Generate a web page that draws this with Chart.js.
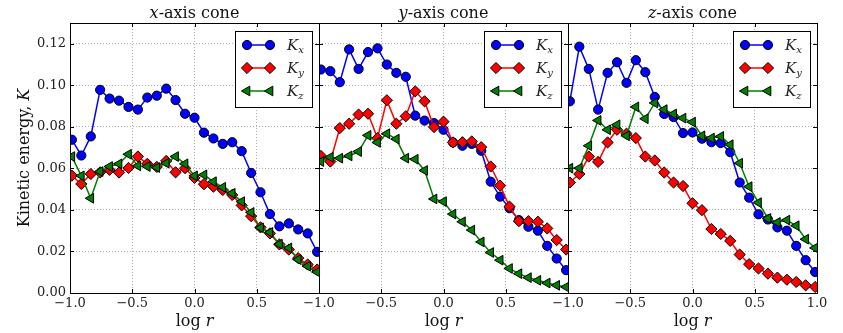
<!DOCTYPE html>
<html>
<head>
<meta charset="utf-8">
<script src="https://cdn.jsdelivr.net/npm/chart.js@4"></script>
<style>
  body { margin: 0; background: #fff; }
  #wrap { position: relative; width: 843px; height: 333px; }
  #wrap canvas { position: absolute; left: 0; top: 0; }
</style>
</head>
<body>
<div id="wrap">
  <canvas id="cx" width="843" height="333"></canvas>
  <canvas id="cy" width="843" height="333"></canvas>
  <canvas id="cz" width="843" height="333"></canvas>
</div>
<script>
// log r bins (shared by all panels)
const logR = [-0.985, -0.909, -0.833, -0.758, -0.682, -0.606, -0.530, -0.455, -0.379, -0.303, -0.227, -0.152, -0.076, 0.000,
  0.076, 0.152, 0.227, 0.303, 0.379, 0.455, 0.530, 0.606, 0.682, 0.758, 0.833, 0.909, 0.985];

// x-axis cone
const xConeKx = [0.0738, 0.0662, 0.0754, 0.0978, 0.0936, 0.0926, 0.0896, 0.0883, 0.0941, 0.0950, 0.0984, 0.0929, 0.0863, 0.0844,
  0.0772, 0.0744, 0.0718, 0.0726, 0.0683, 0.0578, 0.0485, 0.0380, 0.0321, 0.0335, 0.0306, 0.0287, 0.0198];
const xConeKy = [0.0565, 0.0525, 0.0573, 0.0581, 0.0593, 0.0580, 0.0602, 0.0657, 0.0622, 0.0607, 0.0636, 0.0581, 0.0601, 0.0554,
  0.0524, 0.0512, 0.0496, 0.0472, 0.0422, 0.0370, 0.0316, 0.0287, 0.0234, 0.0209, 0.0168, 0.0137, 0.0113];
const xConeKz = [0.0657, 0.0564, 0.0456, 0.0585, 0.0609, 0.0622, 0.0668, 0.0612, 0.0609, 0.0604, 0.0625, 0.0657, 0.0622, 0.0564,
  0.0569, 0.0536, 0.0509, 0.0480, 0.0440, 0.0388, 0.0314, 0.0292, 0.0235, 0.0217, 0.0161, 0.0129, 0.0101];

// y-axis cone
const yConeKx = [0.1076, 0.1068, 0.1015, 0.1173, 0.1079, 0.1160, 0.1178, 0.1100, 0.1060, 0.1041, 0.0854, 0.0830, 0.0818, 0.0786,
  0.0725, 0.0709, 0.0718, 0.0685, 0.0536, 0.0464, 0.0408, 0.0351, 0.0319, 0.0300, 0.0227, 0.0166, 0.0110];
const yConeKy = [0.0660, 0.0633, 0.0794, 0.0815, 0.0859, 0.0863, 0.0746, 0.0928, 0.0815, 0.0851, 0.0971, 0.0923, 0.0799, 0.0825,
  0.0725, 0.0726, 0.0730, 0.0702, 0.0609, 0.0517, 0.0416, 0.0346, 0.0346, 0.0343, 0.0311, 0.0255, 0.0209];
const yConeKz = [0.0633, 0.0654, 0.0649, 0.0660, 0.0681, 0.0759, 0.0725, 0.0767, 0.0741, 0.0649, 0.0644, 0.0590, 0.0453, 0.0440,
  0.0380, 0.0343, 0.0303, 0.0246, 0.0195, 0.0158, 0.0118, 0.0093, 0.0074, 0.0061, 0.0048, 0.0037, 0.0029];

// z-axis cone
const zConeKx = [0.0923, 0.1186, 0.1079, 0.0883, 0.1060, 0.1111, 0.1012, 0.1121, 0.1063, 0.0944, 0.0862, 0.0847, 0.0770, 0.0773,
  0.0743, 0.0726, 0.0722, 0.0678, 0.0532, 0.0459, 0.0379, 0.0354, 0.0316, 0.0300, 0.0227, 0.0158, 0.0101];
const zConeKy = [0.0532, 0.0573, 0.0657, 0.0631, 0.0725, 0.0786, 0.0767, 0.0746, 0.0657, 0.0638, 0.0580, 0.0532, 0.0515, 0.0432,
  0.0399, 0.0308, 0.0284, 0.0251, 0.0185, 0.0139, 0.0118, 0.0093, 0.0074, 0.0064, 0.0053, 0.0037, 0.0029];
const zConeKz = [0.0601, 0.0601, 0.0709, 0.0831, 0.0786, 0.0810, 0.0757, 0.0896, 0.0839, 0.0915, 0.0883, 0.0862, 0.0842, 0.0823,
  0.0757, 0.0746, 0.0754, 0.0714, 0.0625, 0.0512, 0.0435, 0.0359, 0.0340, 0.0351, 0.0324, 0.0259, 0.0217];

const seriesNames = ["x", "y", "z"];   // subscripts of K
const SERIF = "'DejaVu Serif', serif";

const styles = [
  { color: "#0000ff", pointStyle: "circle", radius: 4.6, rotation: 0 },
  { color: "#ff0000", pointStyle: "rectRot", radius: 5.6, rotation: 0 },
  { color: "#008000", pointStyle: "triangle", radius: 5.6, rotation: -90 }
];

const panels = [
  { id: "cx", axis: "x", left: 70, right: 319, series: [xConeKx, xConeKy, xConeKz] },
  { id: "cy", axis: "y", left: 319, right: 568, series: [yConeKx, yConeKy, yConeKz] },
  { id: "cz", axis: "z", left: 568, right: 817, series: [zConeKx, zConeKy, zConeKz] }
];

function drawParts(ctx, parts, x, y) {
  let w = 0;
  parts.forEach(p => { ctx.font = p[1]; w += ctx.measureText(p[0]).width; });
  let cx = x - w / 2;
  parts.forEach(p => {
    ctx.font = p[1];
    ctx.fillText(p[0], cx, y + (p[2] || 0));
    cx += ctx.measureText(p[0]).width;
  });
}

function marker(ctx, st, x, y) {
  ctx.save();
  ctx.fillStyle = st.color;
  ctx.strokeStyle = "#000";
  ctx.lineWidth = 1;
  Chart.helpers.drawPoint(ctx, { pointStyle: st.pointStyle, rotation: st.rotation, radius: st.radius, borderWidth: 1 }, x, y);
  ctx.restore();
}

const panelDecor = {
  id: "panelDecor",
  afterDatasetsDraw(chart, args, opts) {
    const ctx = chart.ctx;
    const a = chart.chartArea;
    ctx.save();

    // frame and inward ticks
    ctx.strokeStyle = "#000";
    ctx.lineWidth = 1;
    ctx.beginPath();
    chart.scales.x.ticks.forEach(t => {
      const px = Math.round(chart.scales.x.getPixelForValue(t.value)) + 0.5;
      ctx.moveTo(px, a.bottom); ctx.lineTo(px, a.bottom - 4);
      ctx.moveTo(px, a.top); ctx.lineTo(px, a.top + 4);
    });
    chart.scales.y.ticks.forEach(t => {
      const py = Math.round(chart.scales.y.getPixelForValue(t.value)) + 0.5;
      ctx.moveTo(a.left, py); ctx.lineTo(a.left + 4, py);
      ctx.moveTo(a.right, py); ctx.lineTo(a.right - 4, py);
    });
    ctx.stroke();
    ctx.strokeRect(Math.round(a.left) + 0.5, Math.round(a.top) + 0.5, Math.round(a.right - a.left), Math.round(a.bottom - a.top));

    // legend box
    const bx = a.right - 84, by = a.top + 8, bw = 77, bh = 76;
    ctx.fillStyle = "#fff";
    ctx.fillRect(bx, by, bw, bh);
    ctx.strokeRect(bx + 0.5, by + 0.5, bw, bh);
    styles.forEach((st, i) => {
      const ly = by + 14 + i * 23;
      ctx.strokeStyle = st.color;
      ctx.lineWidth = 1.5;
      ctx.beginPath();
      ctx.moveTo(bx + 12, ly); ctx.lineTo(bx + 35, ly);
      ctx.stroke();
      marker(ctx, st, bx + 12, ly);
      marker(ctx, st, bx + 35, ly);
      ctx.fillStyle = "#222";
      ctx.textAlign = "left";
      ctx.textBaseline = "alphabetic";
      ctx.font = "italic 15px " + SERIF;
      ctx.fillText("K", bx + 52, ly + 5);
      const kw = ctx.measureText("K").width;
      ctx.font = "italic 10px " + SERIF;
      ctx.fillText(seriesNames[i], bx + 52 + kw, ly + 8);
    });

    // titles
    ctx.fillStyle = "#111";
    ctx.textAlign = "left";
    ctx.textBaseline = "alphabetic";
    const mid = (a.left + a.right) / 2;
    drawParts(ctx, [[opts.axis, "italic 16px " + SERIF], ["-axis cone", "16px " + SERIF]], mid, 18);
    drawParts(ctx, [["log ", "16px " + SERIF], ["r", "italic 16px " + SERIF]], mid, 326);
    if (opts.yTitle) {
      ctx.save();
      ctx.translate(29, (a.top + a.bottom) / 2);
      ctx.rotate(-Math.PI / 2);
      drawParts(ctx, [["Kinetic energy, ", "16px " + SERIF], ["K", "italic 16px " + SERIF]], 0, 0);
      ctx.restore();
    }
    ctx.restore();
  }
};

panels.forEach((p, pi) => {
  const datasets = p.series.map((vals, si) => ({
    label: "K" + seriesNames[si],
    data: logR.map((x, k) => ({ x: x, y: vals[k] })),
    borderColor: styles[si].color,
    borderWidth: 1.5,
    pointStyle: styles[si].pointStyle,
    pointRotation: styles[si].rotation,
    pointRadius: styles[si].radius,
    pointHoverRadius: styles[si].radius,
    pointBackgroundColor: styles[si].color,
    pointBorderColor: "#000",
    pointBorderWidth: 1,
    tension: 0,
    order: 3 - si
  }));

  new Chart(document.getElementById(p.id), {
    type: "line",
    data: { datasets },
    options: {
      responsive: false,
      animation: false,
      devicePixelRatio: 1,
      layout: { padding: { left: pi === 0 ? 0 : p.left, right: 843 - p.right, top: 23, bottom: 0 } },
      plugins: {
        legend: { display: false },
        tooltip: { enabled: false },
        panelDecor: { axis: p.axis, yTitle: pi === 0 }
      },
      scales: {
        x: {
          type: "linear",
          min: -1,
          max: 1,
          afterFit: s => { s.height = 40; },
          ticks: {
            stepSize: 0.5,
            padding: 3,
            color: "#222",
            font: { family: SERIF, size: 13 },
            maxRotation: 0,
            callback: v => (pi < 2 && v === 1) ? "" : (v < 0 ? "\u2212" : "") + Math.abs(v).toFixed(1)
          },
          grid: { color: "rgba(0,0,0,0.4)", lineWidth: 0.8, drawTicks: false },
          border: { display: false, dash: [1, 2] }
        },
        y: {
          min: 0,
          max: 0.13,
          afterFit: s => { s.width = pi === 0 ? p.left : 0; },
          ticks: {
            stepSize: 0.02,
            includeBounds: false,
            display: pi === 0,
            padding: 4,
            color: "#222",
            font: { family: SERIF, size: 13 },
            callback: v => v.toFixed(2)
          },
          grid: { color: "rgba(0,0,0,0.4)", lineWidth: 0.8, drawTicks: false },
          border: { display: false, dash: [1, 2] }
        }
      }
    },
    plugins: [panelDecor]
  });
});
</script>
</body>
</html>
